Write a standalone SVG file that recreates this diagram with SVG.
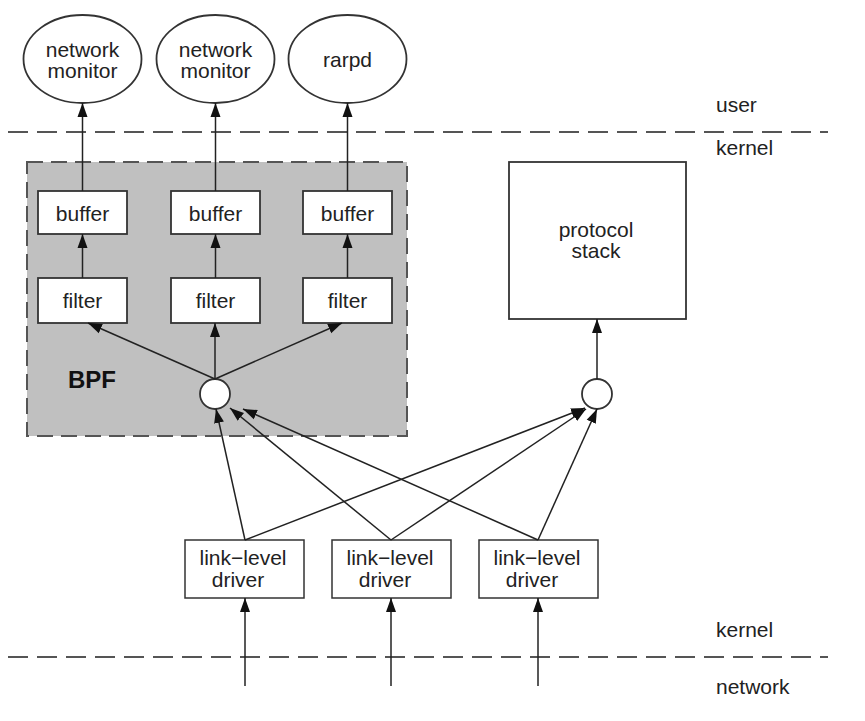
<svg xmlns="http://www.w3.org/2000/svg" width="865" height="721" viewBox="0 0 865 721">
<defs>
<marker id="ah" markerUnits="userSpaceOnUse" markerWidth="15" markerHeight="11" refX="14" refY="5.5" orient="auto">
<path d="M0,0.5 L14,5.5 L0,10.5 z" fill="#111"/>
</marker>
<style>
.t{font-family:"Liberation Sans",Arial,sans-serif;font-size:21px;fill:#222;text-anchor:middle}
.l{font-family:"Liberation Sans",Arial,sans-serif;font-size:21px;fill:#222}
.n{fill:#fff;stroke:#333;stroke-width:1.8}
.c{stroke:#222;stroke-width:1.5;fill:none;marker-end:url(#ah)}
.d{stroke:#555;stroke-width:2;stroke-dasharray:20 9;fill:none}
</style>
</defs>
<rect width="865" height="721" fill="#fff"/>
<g id="layers">
<line class="d" x1="8" y1="132" x2="828" y2="132"/>
<line class="d" x1="8" y1="657" x2="828" y2="657"/>
<text class="l" x="716" y="112">user</text>
<text class="l" x="716" y="155">kernel</text>
<text class="l" x="716" y="637">kernel</text>
<text class="l" x="716" y="694">network</text>
</g>
<g id="bpf">
<rect x="27" y="162" width="380" height="274" fill="#c0c0c0" stroke="#555" stroke-width="2" stroke-dasharray="16 8"/>
<text x="68" y="388" font-family="'Liberation Sans',Arial,sans-serif" font-size="24" font-weight="bold" fill="#111">BPF</text>
</g>
<g id="monitor1"><ellipse class="n" cx="82.5" cy="59" rx="59" ry="44"/><text class="t" x="82.5" y="57">network</text><text class="t" x="82.5" y="78">monitor</text></g>
<g id="monitor2"><ellipse class="n" cx="215.5" cy="59" rx="59" ry="44"/><text class="t" x="215.5" y="57">network</text><text class="t" x="215.5" y="78">monitor</text></g>
<g id="rarpd"><ellipse class="n" cx="347.5" cy="59" rx="59" ry="44"/><text class="t" x="347.5" y="67">rarpd</text></g>
<g id="buffer1"><rect class="n" x="38" y="191" width="89" height="43"/><text class="t" x="82.5" y="221">buffer</text></g>
<g id="buffer2"><rect class="n" x="171" y="191" width="89" height="43"/><text class="t" x="215.5" y="221">buffer</text></g>
<g id="buffer3"><rect class="n" x="303" y="191" width="89" height="43"/><text class="t" x="347.5" y="221">buffer</text></g>
<g id="filter1"><rect class="n" x="38" y="278" width="89" height="45"/><text class="t" x="82.5" y="308">filter</text></g>
<g id="filter2"><rect class="n" x="171" y="278" width="89" height="45"/><text class="t" x="215.5" y="308">filter</text></g>
<g id="filter3"><rect class="n" x="303" y="278" width="89" height="45"/><text class="t" x="347.5" y="308">filter</text></g>
<g id="tap1"><circle class="n" cx="215" cy="394" r="15"/></g>
<g id="tap2"><circle class="n" cx="597" cy="394" r="15"/></g>
<g id="protocol"><rect class="n" x="509" y="162" width="177" height="157"/><text class="t" x="596" y="237">protocol</text><text class="t" x="596" y="258">stack</text></g>
<g id="driver1"><rect x="185" y="540" width="119" height="58" fill="#fff" stroke="#333" stroke-width="1.5"/><text class="t" x="243" y="565">link−level</text><text class="t" x="238" y="587">driver</text></g>
<g id="driver2"><rect x="332" y="540" width="119" height="58" fill="#fff" stroke="#333" stroke-width="1.5"/><text class="t" x="390" y="565">link−level</text><text class="t" x="385" y="587">driver</text></g>
<g id="driver3"><rect x="479" y="540" width="119" height="58" fill="#fff" stroke="#333" stroke-width="1.5"/><text class="t" x="537" y="565">link−level</text><text class="t" x="532" y="587">driver</text></g>
<g id="connectors">
<line class="c" x1="82.5" y1="191" x2="82.5" y2="103"/>
<line class="c" x1="215.5" y1="191" x2="215.5" y2="103"/>
<line class="c" x1="347.5" y1="191" x2="347.5" y2="103"/>
<line class="c" x1="82.5" y1="278" x2="82.5" y2="234"/>
<line class="c" x1="215.5" y1="278" x2="215.5" y2="234"/>
<line class="c" x1="347.5" y1="278" x2="347.5" y2="234"/>
<line class="c" x1="215" y1="379" x2="88" y2="323"/>
<line class="c" x1="215" y1="379" x2="215" y2="323"/>
<line class="c" x1="215" y1="379" x2="342" y2="323"/>
<line class="c" x1="597" y1="379" x2="597" y2="319"/>
<line class="c" x1="245" y1="540" x2="216" y2="409"/>
<line class="c" x1="391" y1="540" x2="230" y2="408"/>
<line class="c" x1="538" y1="540" x2="243" y2="409"/>
<line class="c" x1="245" y1="540" x2="585" y2="408"/>
<line class="c" x1="391" y1="540" x2="586" y2="409"/>
<line class="c" x1="538" y1="540" x2="597" y2="409"/>
<line class="c" x1="245" y1="686" x2="245" y2="598"/>
<line class="c" x1="391" y1="686" x2="391" y2="598"/>
<line class="c" x1="538" y1="686" x2="538" y2="598"/>
</g>
</svg>
